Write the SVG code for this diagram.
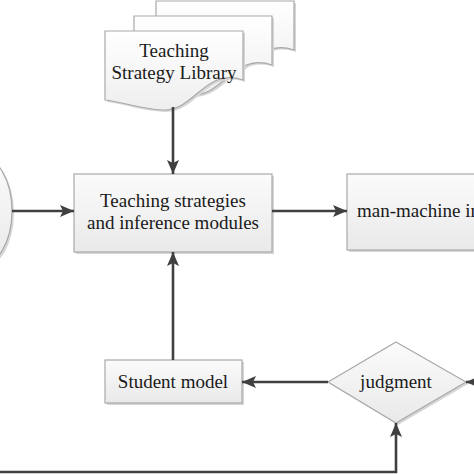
<svg xmlns="http://www.w3.org/2000/svg" width="474" height="474" viewBox="0 0 474 474">
  <defs>
    <linearGradient id="g" x1="0" y1="0" x2="0" y2="1">
      <stop offset="0" stop-color="#fbfbfb"/>
      <stop offset="1" stop-color="#e9e9e9"/>
    </linearGradient>
    <linearGradient id="gd" x1="0" y1="0" x2="0" y2="1">
      <stop offset="0" stop-color="#ffffff"/>
      <stop offset="1" stop-color="#eeeeee"/>
    </linearGradient>
    <marker id="ah" viewBox="0 0 14 12" refX="14" refY="6" markerWidth="14" markerHeight="12" markerUnits="userSpaceOnUse" orient="auto">
      <path d="M0,0 L14,6 L0,12 L3,6 Z" fill="#404040"/>
    </marker>
    <path id="doc" d="M0,0 H138 V49 C100,36 90,80 58,79 C35,78 18,71 0,69 Z"/>
  </defs>
  <style>
    .shape { fill: url(#g); stroke: #a9a9a9; stroke-width: 1.2; }
    .docs { fill: url(#gd); stroke: #a9a9a9; stroke-width: 1.2; }
    .shadow { fill: #d6d6d6; }
    .lbl { font-family: "Liberation Serif", "Times New Roman", serif; font-size: 19px; fill: #1a1a1a; text-anchor: middle; }
    .conn { fill: none; stroke: #404040; stroke-width: 2.6; }
  </style>
  <rect width="474" height="474" fill="#ffffff"/>

  <g id="library">
    <use href="#doc" x="158" y="3" class="shadow"/>
    <use href="#doc" x="156" y="1" class="docs"/>
    <use href="#doc" x="136" y="18" class="shadow"/>
    <use href="#doc" x="134" y="16" class="docs"/>
    <use href="#doc" x="107" y="33" class="shadow"/>
    <use href="#doc" x="105" y="31" class="docs"/>
    <text class="lbl" x="174" y="57">Teaching</text>
    <text class="lbl" x="174" y="79">Strategy Library</text>
  </g>

  <g id="input">
    <ellipse cx="-18" cy="213" rx="32" ry="55" class="shadow"/>
    <ellipse cx="-20" cy="211" rx="32" ry="55" class="shape"/>
  </g>

  <g id="inference">
    <rect x="76" y="176" width="198" height="78" class="shadow"/>
    <rect x="74" y="174" width="198" height="78" class="shape"/>
    <text class="lbl" x="173" y="207">Teaching strategies</text>
    <text class="lbl" x="173" y="229">and inference modules</text>
  </g>

  <g id="interface">
    <rect x="349" y="176" width="160" height="76" class="shadow"/>
    <rect x="347" y="174" width="160" height="76" class="shape"/>
    <text class="lbl" x="357" y="217" style="text-anchor:start">man-machine interface</text>
  </g>

  <g id="student">
    <rect x="107" y="362" width="137" height="43" class="shadow"/>
    <rect x="105" y="360" width="137" height="43" class="shape"/>
    <text class="lbl" x="173" y="388">Student model</text>
  </g>

  <g id="judgment">
    <polygon points="398,344 468,384 398,425 330,384" class="shadow"/>
    <polygon points="396,342 466,382 396,423 328,382" class="shape"/>
    <text class="lbl" x="396" y="388">judgment</text>
  </g>

  <g id="connectors">
    <line x1="173" y1="107" x2="173" y2="174" class="conn" marker-end="url(#ah)"/>
    <line x1="12" y1="211" x2="74" y2="211" class="conn" marker-end="url(#ah)"/>
    <line x1="272" y1="211" x2="347" y2="211" class="conn" marker-end="url(#ah)"/>
    <line x1="173" y1="360" x2="173" y2="252" class="conn" marker-end="url(#ah)"/>
    <line x1="328" y1="382" x2="242" y2="382" class="conn" marker-end="url(#ah)"/>
    <line x1="480" y1="382" x2="466" y2="382" class="conn" marker-end="url(#ah)"/>
    <polyline points="-5,472 396,472 396,423" class="conn" marker-end="url(#ah)"/>
  </g>
</svg>
